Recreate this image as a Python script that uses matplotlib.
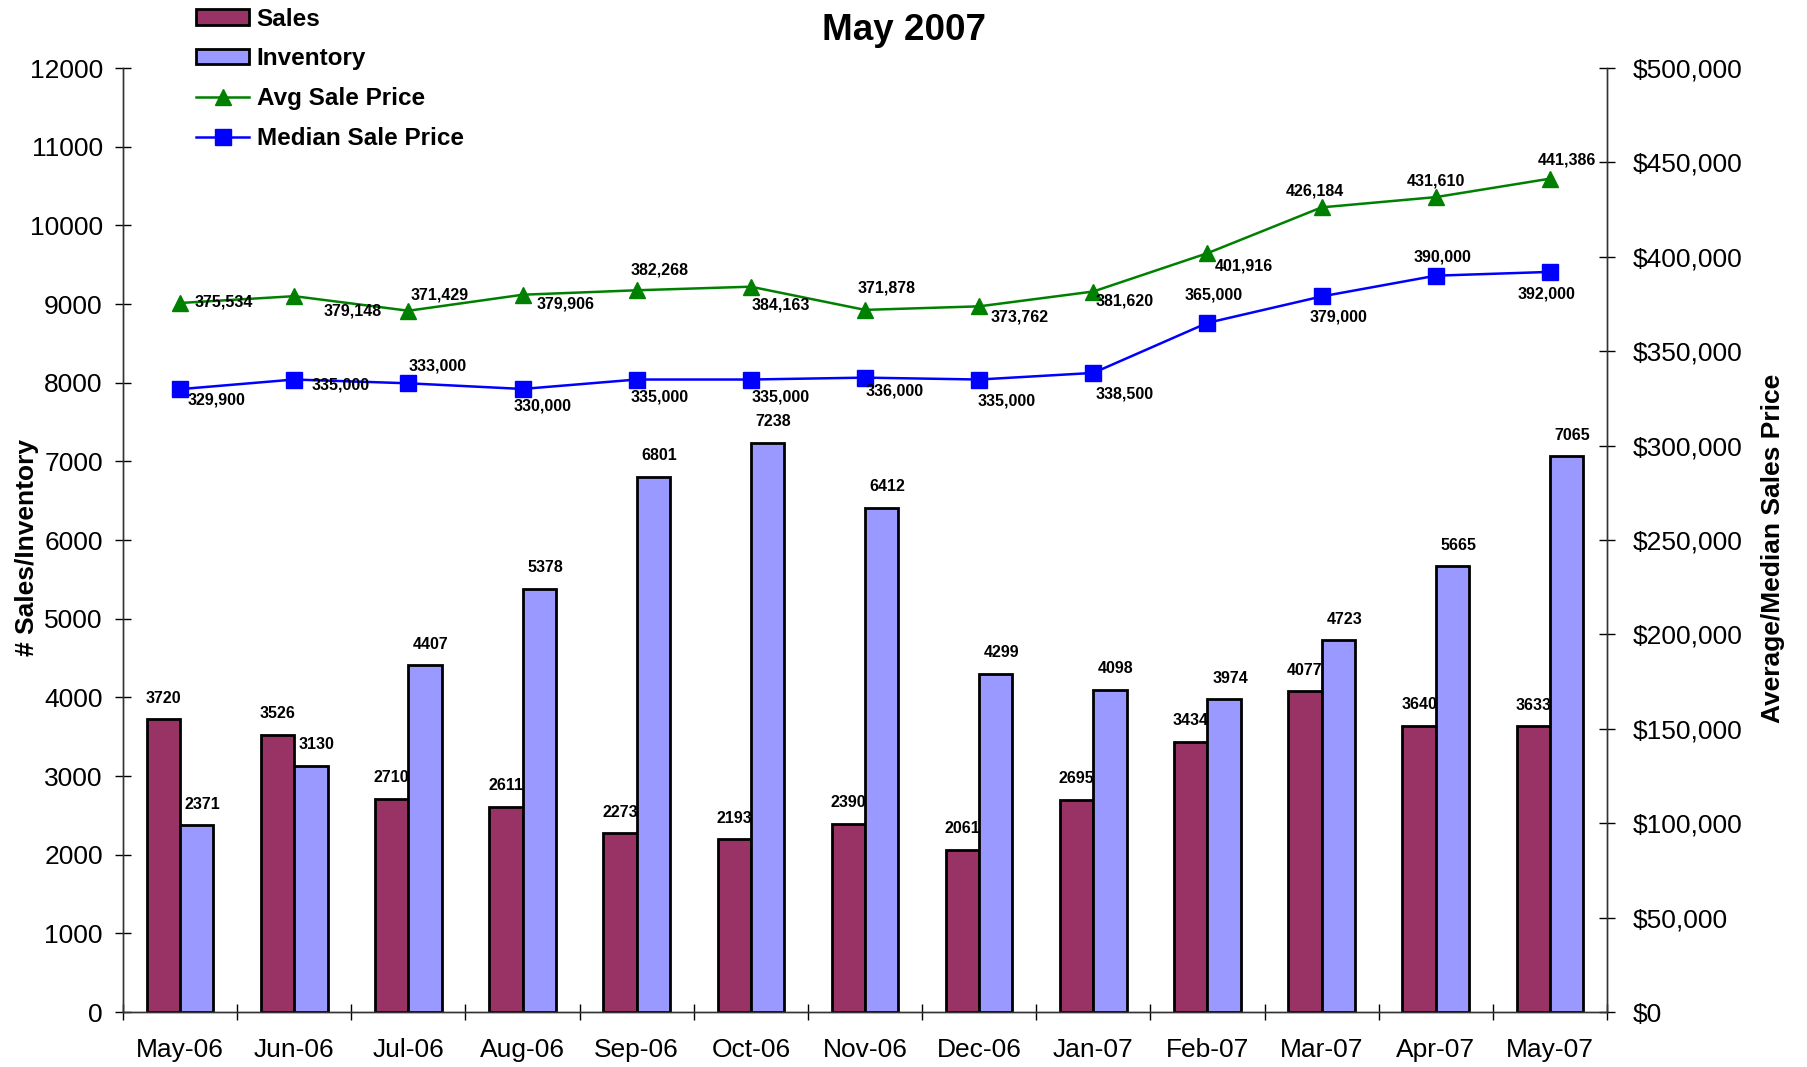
import matplotlib
matplotlib.use("Agg")
import matplotlib.pyplot as plt
from matplotlib.patches import Patch
from matplotlib.lines import Line2D
from matplotlib.ticker import FuncFormatter, FixedLocator
import numpy as np

plt.rcParams['font.family'] = ['Liberation Sans', 'DejaVu Sans']

months = ["May-06", "Jun-06", "Jul-06", "Aug-06", "Sep-06", "Oct-06", "Nov-06",
          "Dec-06", "Jan-07", "Feb-07", "Mar-07", "Apr-07", "May-07"]
sales = [3720, 3526, 2710, 2611, 2273, 2193, 2390, 2061, 2695, 3434, 4077, 3640, 3633]
inventory = [2371, 3130, 4407, 5378, 6801, 7238, 6412, 4299, 4098, 3974, 4723, 5665, 7065]
avg_price = [375534, 379148, 371429, 379906, 382268, 384163, 371878, 373762,
             381620, 401916, 426184, 431610, 441386]
median_price = [329900, 335000, 333000, 330000, 335000, 335000, 336000, 335000,
                338500, 365000, 379000, 390000, 392000]

# label offsets (pixels, x right / y up) for the line value labels
avg_off = [(38, 1), (51, -13), (27, 14), (37, -8), (20, 18), (26, -16), (19, 19),
           (35, -9), (27, -8), (32, -11), (-6, 14), (0, 14), (15, 16)]
med_off = [(32, -9), (40, -5), (25, 15), (17, -15), (20, -15), (26, -15), (26, -12),
           (24, -19), (27, -18), (5, 24), (15, -18), (6, 16), (-3, -19)]

SALES_C = "#993366"
INV_C = "#9999FF"
AVG_C = "#008000"
MED_C = "#0000FF"

W, H = 1807, 1067
fig = plt.figure(figsize=(W / 100, H / 100), dpi=100)
L, R, T, B = 123, 1607, 68, 1012
ax = fig.add_axes([L / W, 1 - B / H, (R - L) / W, (B - T) / H])
ax2 = ax.twinx()

x = np.arange(len(months))
bw = 0.292
ax.bar(x - bw / 2, sales, bw, color=SALES_C, edgecolor="black", linewidth=2.0, zorder=2)
ax.bar(x + bw / 2, inventory, bw, color=INV_C, edgecolor="black", linewidth=2.0, zorder=2)

lblfont = dict(fontsize=11.5, fontweight="bold", ha="center", va="center")
for i in range(len(x)):
    ax.annotate(str(sales[i]), (x[i] - bw / 2, sales[i]), xytext=(0, 21),
                textcoords="offset pixels", **lblfont)
    ax.annotate(str(inventory[i]), (x[i] + bw / 2, inventory[i]), xytext=(6, 21),
                textcoords="offset pixels", **lblfont)

ax.set_xlim(-0.5, len(months) - 0.5)
ax.set_ylim(0, 12000)
ax.set_yticks(np.arange(0, 12001, 1000))
ax.set_yticklabels([str(v) for v in range(0, 12001, 1000)])
ax.tick_params(axis="y", direction="inout", length=12, width=1, labelsize=19, pad=8.5)

ax.xaxis.set_major_locator(FixedLocator(np.arange(-0.5, len(months), 1.0)))
ax.xaxis.set_major_formatter(FuncFormatter(lambda v, p: ""))
ax.set_xticks(x, months, minor=True)
ax.tick_params(axis="x", which="major", direction="inout", length=12, width=1)
ax.tick_params(axis="x", which="minor", length=0, labelsize=19, pad=19)

ax2.plot(x, avg_price, color=AVG_C, lw=1.8, marker="^", markersize=11.5, zorder=3)
ax2.plot(x, median_price, color=MED_C, lw=1.8, marker="s", markersize=11, zorder=3)
sc = 1.152
for i in range(len(x)):
    ax2.annotate(f"{avg_price[i]:,}", (x[i], avg_price[i]),
                 xytext=(avg_off[i][0] * sc, avg_off[i][1] * sc),
                 textcoords="offset pixels", **lblfont)
    ax2.annotate(f"{median_price[i]:,}", (x[i], median_price[i]),
                 xytext=(med_off[i][0] * sc, med_off[i][1] * sc),
                 textcoords="offset pixels", **lblfont)

ax2.set_ylim(0, 500000)
ax2.set_yticks(np.arange(0, 500001, 50000))
ax2.yaxis.set_major_formatter(FuncFormatter(lambda v, p: f"${int(v):,}"))
ax2.tick_params(axis="y", direction="inout", length=12, width=1, labelsize=19, pad=12.5)

for a in (ax, ax2):
    a.spines["top"].set_visible(False)
    for s in ("left", "right", "bottom"):
        a.spines[s].set_color("#333333")
        a.spines[s].set_linewidth(1.0)

fig.text(27 / W, 1 - 548 / H, "# Sales/Inventory", rotation=90, fontsize=19,
         fontweight="bold", ha="center", va="center")
fig.text(1773 / W, 1 - 548 / H, "Average/Median Sales Price", rotation=90, fontsize=19,
         fontweight="bold", ha="center", va="center")
fig.text(0.5, 1 - 30 / H, "May 2007", fontsize=26.5, fontweight="bold", ha="center", va="center")

handles = [
    Patch(facecolor=SALES_C, edgecolor="black", linewidth=2.0),
    Patch(facecolor=INV_C, edgecolor="black", linewidth=2.0),
    Line2D([], [], color=AVG_C, lw=1.8, marker="^", markersize=11.5),
    Line2D([], [], color=MED_C, lw=1.8, marker="s", markersize=11),
]
labels = ["Sales", "Inventory", "Avg Sale Price", "Median Sale Price"]
fig.legend(handles, labels, loc="upper left", bbox_to_anchor=(196 / W, 1 - 7.5 / H),
           frameon=False, prop=dict(size=17.5, weight="bold"), borderpad=0,
           borderaxespad=0, handlelength=2.2, handleheight=0.6, handletextpad=0.3,
           labelspacing=0.69)

fig.savefig("out.png", dpi=100)
